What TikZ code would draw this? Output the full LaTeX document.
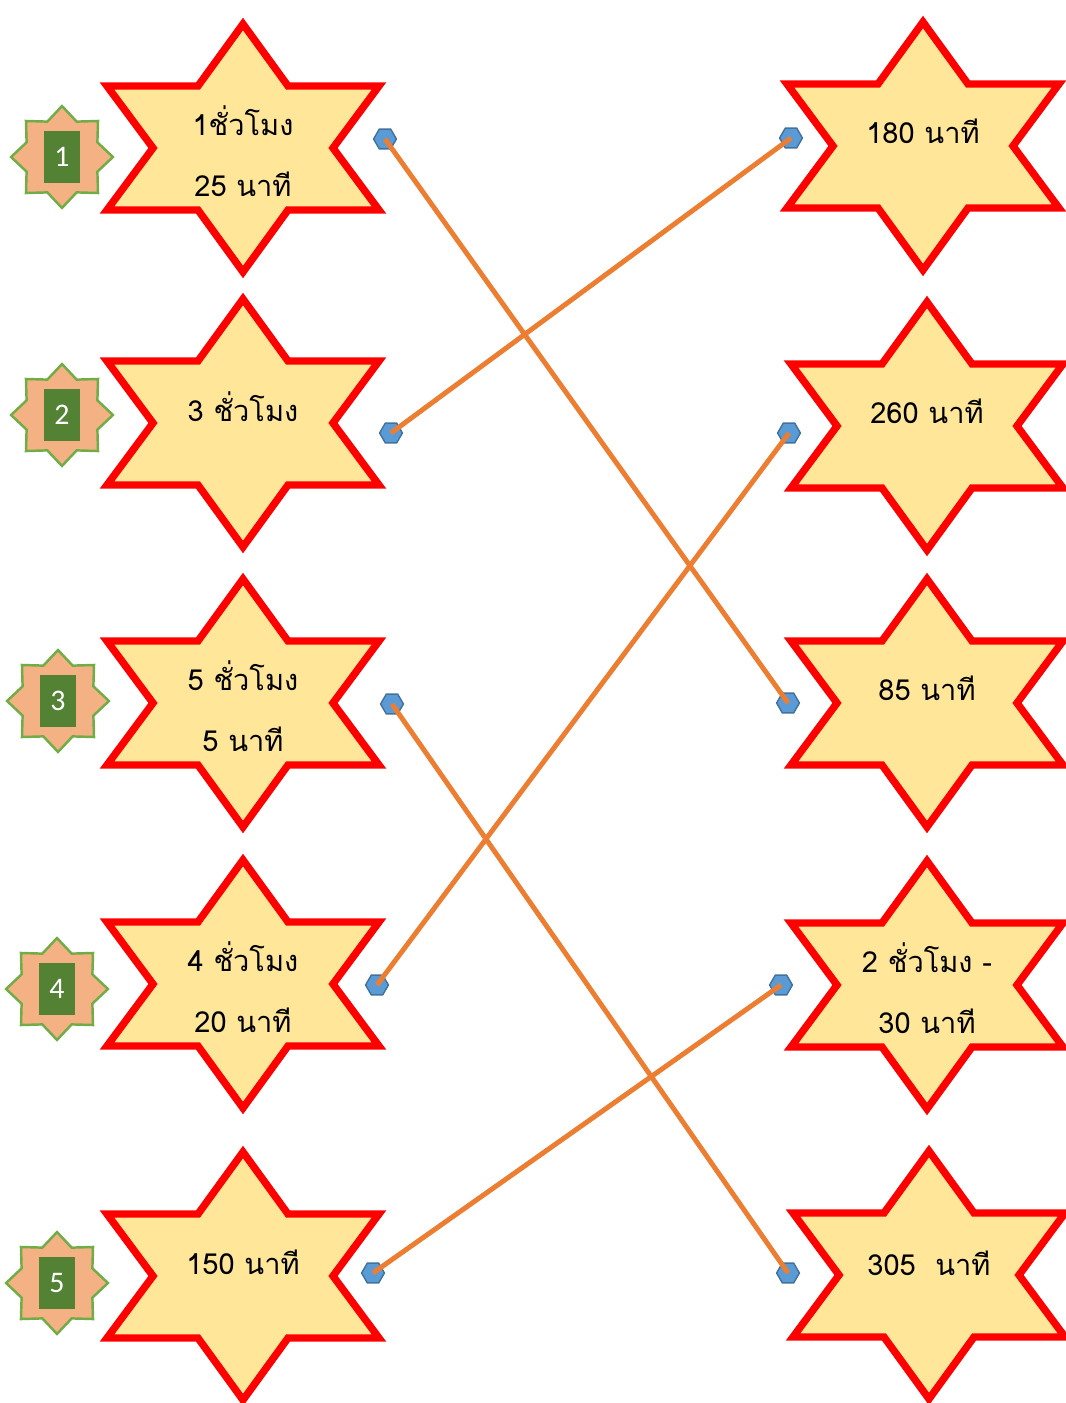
\documentclass[tikz,border=0pt]{standalone}
\usepackage{fontspec}
\newfontfamily\thaifont[Script=Thai]{Loma}
\newfontfamily\numfont{Carlito}
\usetikzlibrary{shapes.geometric}
\definecolor{starred}{HTML}{FF0000}
\definecolor{starfill}{HTML}{FFE699}
\definecolor{badgefill}{HTML}{F4B183}
\definecolor{badgeline}{HTML}{70AD47}
\definecolor{badgebox}{HTML}{548235}
\definecolor{dotfill}{HTML}{5B9BD5}
\definecolor{dotline}{HTML}{41719C}
\definecolor{linkorange}{HTML}{ED7D31}

% six-pointed star drawn round a named centre
\newcommand{\hexstar}[1]{%
  \draw[starline, shift={(#1)}] (0,-124) -- (45,-62) -- (136,-62) -- (90,0)
    -- (136,62) -- (45,62) -- (0,124) -- (-45,62) -- (-136,62) -- (-90,0)
    -- (-136,-62) -- (-45,-62) -- cycle;}

\begin{document}
\begin{tikzpicture}[
    x=0.02cm, y=-0.02cm,
    starline/.style={draw=starred, fill=starfill, line width=4.2pt},
    lab/.style={font=\thaifont\fontsize{16.5}{34.5}\selectfont, align=center, inner sep=0pt},
    badge/.style={star, star points=8, star point ratio=1.33, minimum size=58pt,
        inner sep=0pt, fill=badgefill, draw=badgeline, line width=1.4pt},
    num/.style={fill=badgebox, text=white, font=\numfont\fontsize{17}{20}\selectfont,
        minimum width=20.5pt, minimum height=29.6pt, inner sep=0pt},
    dot/.style={regular polygon, regular polygon sides=6, minimum size=13pt,
        inner sep=0pt, fill=dotfill, draw=dotline, line width=0.8pt},
    match/.style={draw=linkorange, line width=2.8pt},
]
\useasboundingbox (0,0) rectangle (1065,1403);

% star centres, px measured from the top left corner
\coordinate (L1) at (243,148);
\coordinate (L2) at (243,423);
\coordinate (L3) at (243,703);
\coordinate (L4) at (243,984);
\coordinate (L5) at (243,1276);
\coordinate (R1) at (923,146);
\coordinate (R2) at (927,426);
\coordinate (R3) at (927,703);
\coordinate (R4) at (927,985);
\coordinate (R5) at (929,1275);

\foreach \s in {L1,L2,L3,L4,L5,R1,R2,R3,R4,R5}
    \hexstar{\s};

% left texts
\node[lab] (t1) at (243,151) {1ชั่วโมง\\25 นาที};
\node[lab] (t2) at (243,407) {3 ชั่วโมง};
\node[lab] (t3) at (243,706) {5 ชั่วโมง\\5 นาที};
\node[lab] (t4) at (243,987) {4 ชั่วโมง\\20 นาที};
\node[lab] (t5) at (243,1262) {150 นาที};

% right texts
\node[lab] (u1) at (923,131) {180 นาที};
\node[lab] (u2) at (927,411) {260 นาที};
\node[lab] (u3) at (927,688) {85 นาที};
\node[lab] (u4) at (927,988) {2 ชั่วโมง -\\30 นาที};
\node[lab] (u5) at (929,1263) {305\ \ นาที};

% numbered badges
\node[badge] (b1) at (62,157) {};
\node[badge] (b2) at (62,415) {};
\node[badge] (b3) at (58,701) {};
\node[badge] (b4) at (57,989) {};
\node[badge] (b5) at (57,1283) {};
\node[num] (n1) at (b1) {1};
\node[num] (n2) at (b2) {2};
\node[num] (n3) at (b3) {3};
\node[num] (n4) at (b4) {4};
\node[num] (n5) at (b5) {5};

% connection dots
\node[dot] (p1) at (385,139) {};
\node[dot] (p2) at (391,433) {};
\node[dot] (p3) at (392,704) {};
\node[dot] (p4) at (377,985) {};
\node[dot] (p5) at (373,1273) {};
\node[dot] (q1) at (791,138) {};
\node[dot] (q2) at (789,433) {};
\node[dot] (q3) at (788,703) {};
\node[dot] (q4) at (781,985) {};
\node[dot] (q5) at (788,1273) {};

% matching lines
\draw[match] (p1.center) -- (q3.center);
\draw[match] (p2.center) -- (q1.center);
\draw[match] (p3.center) -- (q5.center);
\draw[match] (p4.center) -- (q2.center);
\draw[match] (p5.center) -- (q4.center);

\end{tikzpicture}
\end{document}
